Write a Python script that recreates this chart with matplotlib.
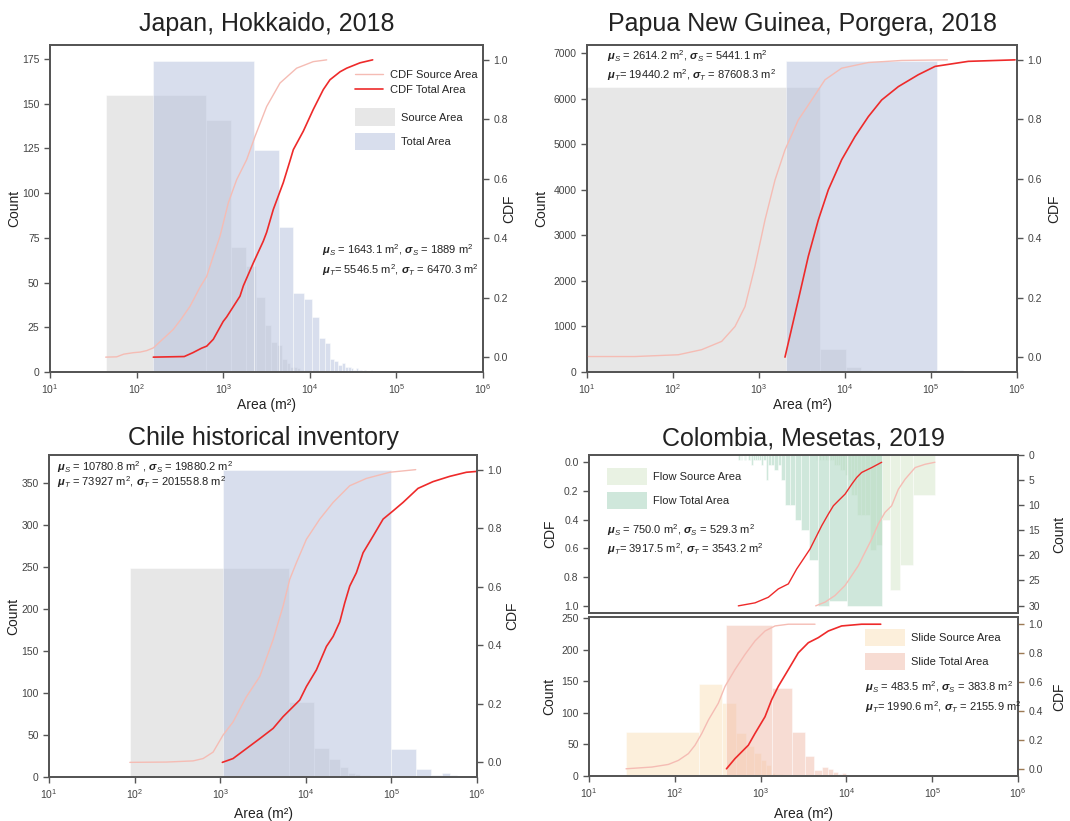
import numpy as np
import matplotlib
matplotlib.use('Agg')
import matplotlib.pyplot as plt
import seaborn as sns
from matplotlib.patches import Patch
from matplotlib.lines import Line2D
from matplotlib.ticker import NullLocator, FixedLocator

# ---------------- Japan, Hokkaido 2018
jp_src_start, jp_src_width = 44, 594
jp_src_counts = [155, 141, 70, 59, 42, 26, 17, 15, 7, 5, 3, 3, 2, 1, 1, 1, 1, 0, 1, 0, 1, 0, 0, 0, 0, 1]
jp_tot_start, jp_tot_width = 156, 2100
jp_tot_counts = [174, 124, 81, 44, 41, 31, 19, 16, 7, 6, 4, 5, 3, 3, 2, 1, 2, 1, 1, 0, 1, 0, 0, 0, 1]
jp_src_cdf_x = [44, 59, 71, 92, 110, 131, 156, 200, 265, 331, 414, 540, 646, 769, 918, 1146, 1432,
                1866, 2328, 3177, 4529, 7047, 10965, 15668]
jp_src_cdf_y = [0, 0.001, 0.01, 0.015, 0.017, 0.022, 0.031, 0.06, 0.093, 0.13, 0.171, 0.235, 0.272,
                0.34, 0.406, 0.519, 0.597, 0.664, 0.742, 0.843, 0.922, 0.972, 0.994, 1.0]
jp_tot_cdf_x = [156, 355, 447, 562, 646, 769, 1000, 1096, 1309, 1563, 1710, 2228, 2904, 3177, 3793,
                4943, 5902, 6457, 8414, 10965, 14322, 17100, 22387, 26669, 38019, 53211]
jp_tot_cdf_y = [0, 0.002, 0.015, 0.03, 0.037, 0.06, 0.12, 0.135, 0.17, 0.205, 0.24, 0.317, 0.39, 0.42,
                0.497, 0.587, 0.66, 0.698, 0.76, 0.833, 0.9, 0.933, 0.96, 0.972, 0.99, 1.0]

# ---------------- Papua New Guinea, Porgera 2018
png_src_start, png_src_width = 5, 5090
png_src_counts = [6260, 498, 103, 44, 20, 10, 6, 4, 3, 2, 1, 1, 1, 0, 1, 0, 0, 1, 0, 0, 0, 0, 0, 0,
                  0, 0, 0, 0, 0, 1]
png_tot_start, png_tot_width = 2040, 116000
png_tot_counts = [6839, 51, 8, 3, 2, 1, 0, 0, 1]
png_src_cdf_x = [10, 36, 115, 215, 368, 526, 687, 897, 1175, 1535, 2004, 2864, 4093, 5848, 9141,
                 18664, 45604, 154882]
png_src_cdf_y = [0.002, 0.002, 0.008, 0.025, 0.053, 0.103, 0.17, 0.305, 0.462, 0.596, 0.697, 0.798,
                 0.865, 0.933, 0.972, 0.991, 0.998, 1.0]
png_tot_cdf_x = [2004, 2864, 3741, 4898, 6397, 9141, 13062, 18664, 26669, 41687, 71121, 111429,
                 271644, 948418]
png_tot_cdf_y = [0, 0.193, 0.339, 0.462, 0.563, 0.664, 0.742, 0.809, 0.865, 0.91, 0.95, 0.978,
                 0.995, 1.0]

# ---------------- Chile historical inventory
cl_src_start, cl_src_width = 88, 6200
cl_src_counts = [249, 89, 35, 21, 12, 5, 3, 2, 2, 1, 1, 0, 1, 1, 0, 1, 0, 0, 1, 0, 0, 0, 0, 1, 0,
                 0, 0, 0, 0, 0, 1]
cl_tot_start, cl_tot_width = 1080, 97100
cl_tot_counts = [365, 33, 10, 2, 5, 2, 1, 0, 0, 1]
cl_src_cdf_x = [88, 235, 482, 631, 826, 1079, 1413, 2023, 2897, 4150, 5420, 6486, 7762, 10162,
                14555, 20845, 32584, 51050, 95499, 192309]
cl_src_cdf_y = [0, 0.001, 0.005, 0.013, 0.035, 0.093, 0.138, 0.224, 0.293, 0.419, 0.533, 0.625,
                0.682, 0.762, 0.831, 0.888, 0.945, 0.97, 0.991, 1.0]
cl_tot_cdf_x = [1059, 1413, 2023, 2897, 4150, 5420, 7096, 8492, 10162, 13305, 17418, 20845, 24946,
                28510, 32584, 38994, 46666, 61094, 79983, 104472, 136773, 204644, 306196, 479733,
                751623, 1000000]
cl_tot_cdf_y = [0, 0.013, 0.047, 0.081, 0.116, 0.156, 0.19, 0.213, 0.259, 0.316, 0.396, 0.43, 0.48,
                0.545, 0.602, 0.648, 0.716, 0.773, 0.831, 0.859, 0.888, 0.936, 0.959, 0.977, 0.991,
                0.994]

# ---------------- Colombia, Mesetas 2019 : flows (upper, mirrored) and slides (lower)
fl_src_start, fl_src_width = 93, 72.9
fl_src_counts = [8, 22, 27, 13, 18, 19, 12, 12, 12, 8, 8, 5, 4, 3, 3, 2, 2, 2, 1, 1, 1, 1, 1, 0, 1,
                 0, 1, 0, 0, 1]
fl_tot_start, fl_tot_width = 388, 594
fl_tot_counts = [30, 29, 30, 21, 15, 13, 10, 10, 5, 2, 3, 2, 2, 5, 1, 2, 1, 1, 1, 1, 2, 1, 1, 0, 1,
                 1, 0, 1, 0, 1]
fl_src_cdf_x = [93, 121, 158, 207, 248, 297, 355, 425, 507, 607, 726, 867, 1037, 1358, 1775, 2280]
fl_src_cdf_y = [0, 0.014, 0.037, 0.118, 0.188, 0.303, 0.349, 0.43, 0.535, 0.627, 0.72, 0.789, 0.858,
                0.928, 0.974, 1.0]
fl_tot_cdf_x = [388, 507, 664, 759, 867, 1037, 1241, 1419, 1625, 1941, 2323, 2655, 3177, 3796, 4753,
                6219, 8128, 11614, 18197]
fl_tot_cdf_y = [0, 0.037, 0.071, 0.106, 0.153, 0.222, 0.268, 0.303, 0.361, 0.442, 0.535, 0.604,
                0.674, 0.743, 0.847, 0.882, 0.94, 0.979, 1.0]

sl_src_start, sl_src_width = 27, 162
sl_src_counts = [70, 146, 115, 68, 48, 36, 25, 17, 5, 3, 3, 2, 2, 1, 1, 1, 1, 0, 1, 0, 1, 0, 0, 0,
                 0, 1]
sl_tot_start, sl_tot_width = 400, 950
sl_tot_counts = [240, 139, 69, 32, 10, 14, 11, 7, 3, 4, 2, 1, 1, 0, 1, 1, 0, 0, 1, 0, 1, 0, 0, 0,
                 0, 1]
sl_src_cdf_x = [27, 54, 84, 110, 144, 172, 206, 246, 321, 385, 502, 658, 859, 1125, 1472, 2104, 4305]
sl_src_cdf_y = [0, 0.012, 0.03, 0.058, 0.105, 0.163, 0.244, 0.337, 0.453, 0.57, 0.686, 0.791, 0.884,
                0.953, 0.988, 1.0, 1.0]
sl_tot_cdf_x = [400, 502, 719, 859, 1125, 1343, 1607, 2104, 2748, 3597, 4699, 6152, 8790, 15031,
                25119]
sl_tot_cdf_y = [0, 0.07, 0.163, 0.244, 0.36, 0.477, 0.57, 0.686, 0.802, 0.872, 0.907, 0.953, 0.988,
                1.0, 1.0]

GREY = '#d1d1d1'
BLUE = '#b3bfdd'
FLOW_SRC = '#d5e7c9'
FLOW_TOT = '#a1d1b9'
SLIDE_SRC = '#fbe1b9'
SLIDE_TOT = '#f1bba9'
PINK = '#f5bcb4'
RED = '#ee2a2a'
INK = '#222222'

sns.set_style('ticks')
plt.rcParams['font.family'] = ['Liberation Sans', 'DejaVu Sans']
plt.rcParams['mathtext.fontset'] = 'custom'
plt.rcParams['mathtext.rm'] = 'Liberation Sans'
plt.rcParams['mathtext.it'] = 'Liberation Sans:italic'
plt.rcParams['mathtext.bf'] = 'Liberation Sans:bold:italic'
plt.rcParams['axes.edgecolor'] = '#555555'
plt.rcParams['axes.linewidth'] = 1.3
plt.rcParams['xtick.color'] = '#555555'
plt.rcParams['ytick.color'] = '#555555'
plt.rcParams['xtick.labelcolor'] = '#444444'
plt.rcParams['ytick.labelcolor'] = '#444444'
plt.rcParams['xtick.labelsize'] = 7.5
plt.rcParams['ytick.labelsize'] = 7.5
plt.rcParams['axes.labelsize'] = 10
plt.rcParams['axes.labelcolor'] = INK

AREA_LABEL = 'Area (m\u00b2)'


def bars(ax, start, width, counts, color):
    left = start + width * np.arange(len(counts))
    ax.bar(left, counts, width=width, align='edge', color=color, alpha=0.5,
           edgecolor='white', linewidth=0.6)


def setup_x(ax):
    ax.set_xscale('log')
    ax.set_xlim(10, 1e6)
    ax.xaxis.set_major_locator(FixedLocator([1e1, 1e2, 1e3, 1e4, 1e5, 1e6]))
    ax.xaxis.set_minor_locator(NullLocator())


def stats(ax, x, y1, y2, s1, s2, fs=8):
    ax.text(x, y1, s1, transform=ax.transAxes, fontsize=fs, va='center', ha='left', color=INK)
    ax.text(x, y2, s2, transform=ax.transAxes, fontsize=fs, va='center', ha='left', color=INK)


def patch_legend(ax, labels, colors, x, y):
    handles = [Patch(facecolor=c, alpha=0.5, edgecolor='none') for c in colors]
    return ax.legend(handles, labels, loc='upper left', bbox_to_anchor=(x, y), frameon=False,
                     fontsize=8, handlelength=3.6, handleheight=2.0, handletextpad=0.55,
                     labelspacing=0.65, borderpad=0, borderaxespad=0)


def hist_cdf(rect, src, tot, src_cdf, tot_cdf, colors):
    ax = fig.add_axes(rect)
    setup_x(ax)
    bars(ax, *src, colors[0])
    bars(ax, *tot, colors[1])
    cx = ax.twinx()
    cx.plot(*src_cdf, color=PINK, lw=1.0)
    cx.plot(*tot_cdf, color=RED, lw=1.2)
    setup_x(cx)
    ax.set_xlabel(AREA_LABEL)
    ax.set_ylabel('Count')
    cx.set_ylabel('CDF')
    ax.tick_params(length=4, width=1)
    cx.tick_params(length=4, width=1)
    return ax, cx


fig = plt.figure(figsize=(10.70, 8.21), dpi=100)

# Japan
ax, cx = hist_cdf([0.0467, 0.5469, 0.4047, 0.3983],
                  (jp_src_start, jp_src_width, jp_src_counts),
                  (jp_tot_start, jp_tot_width, jp_tot_counts),
                  (jp_src_cdf_x, jp_src_cdf_y), (jp_tot_cdf_x, jp_tot_cdf_y), (GREY, BLUE))
ax.set_title('Japan, Hokkaido, 2018', fontsize=18, pad=10, color=INK)
ax.yaxis.set_label_coords(-0.067, 0.5)
cx.yaxis.set_label_coords(1.044, 0.5)
ax.xaxis.set_label_coords(0.5, -0.08)
lines_leg = cx.legend([Line2D([], [], color=PINK, lw=1.0), Line2D([], [], color=RED, lw=1.2)],
                      ['CDF Source Area', 'CDF Total Area'], loc='upper left',
                      bbox_to_anchor=(0.704, 0.924), frameon=False, fontsize=8, handlelength=2.5,
                      handletextpad=0.63, labelspacing=0.46, borderpad=0, borderaxespad=0)
cx.add_artist(lines_leg)
patch_legend(cx, ['Source Area', 'Total Area'], [GREY, BLUE], 0.704, 0.806)
stats(ax, 0.6275, 0.373, 0.312,
      r'$\mathbf{\mu}_S$ = 1643.1 m$^2$, $\mathbf{\sigma}_S$ = 1889 m$^2$',
      r'$\mathbf{\mu}_T$= 5546.5 m$^2$, $\mathbf{\sigma}_T$ = 6470.3 m$^2$')

# Papua New Guinea
ax, cx = hist_cdf([0.5486, 0.5469, 0.4019, 0.3983],
                  (png_src_start, png_src_width, png_src_counts),
                  (png_tot_start, png_tot_width, png_tot_counts),
                  (png_src_cdf_x, png_src_cdf_y), (png_tot_cdf_x, png_tot_cdf_y), (GREY, BLUE))
ax.set_title('Papua New Guinea, Porgera, 2018', fontsize=18, pad=10, color=INK)
ax.yaxis.set_label_coords(-0.091, 0.5)
cx.yaxis.set_label_coords(1.071, 0.5)
ax.xaxis.set_label_coords(0.5, -0.08)
stats(ax, 0.0465, 0.966, 0.908,
      r'$\mathbf{\mu}_S$ = 2614.2 m$^2$, $\mathbf{\sigma}_S$ = 5441.1 m$^2$',
      r'$\mathbf{\mu}_T$= 19440.2 m$^2$, $\mathbf{\sigma}_T$ = 87608.3 m$^2$')

# Chile
ax, cx = hist_cdf([0.0458, 0.0536, 0.4, 0.3922],
                  (cl_src_start, cl_src_width, cl_src_counts),
                  (cl_tot_start, cl_tot_width, cl_tot_counts),
                  (cl_src_cdf_x, cl_src_cdf_y), (cl_tot_cdf_x, cl_tot_cdf_y), (GREY, BLUE))
ax.set_title('Chile historical inventory', fontsize=18, pad=7, color=INK)
ax.yaxis.set_label_coords(-0.068, 0.5)
cx.yaxis.set_label_coords(1.065, 0.5)
ax.xaxis.set_label_coords(0.5, -0.092)
stats(ax, 0.0187, 0.963, 0.916,
      r'$\mathbf{\mu}_S$ = 10780.8 m$^2$ , $\mathbf{\sigma}_S$ = 19880.2 m$^2$',
      r'$\mathbf{\mu}_T$ = 73927 m$^2$, $\mathbf{\sigma}_T$ = 201558.8 m$^2$')

# Colombia - flows, mirrored above
ax = fig.add_axes([0.5505, 0.2533, 0.4009, 0.1924])
setup_x(ax)
bars(ax, fl_src_start, fl_src_width, fl_src_counts, FLOW_SRC)
bars(ax, fl_tot_start, fl_tot_width, fl_tot_counts, FLOW_TOT)
ax.set_xlim(1e6, 10)
ax.invert_yaxis()
ax.set_yticks([0, 5, 10, 15, 20, 25, 30])
cx = ax.twinx()
cx.plot(fl_src_cdf_x, fl_src_cdf_y, color=PINK, lw=1.0)
cx.plot(fl_tot_cdf_x, fl_tot_cdf_y, color=RED, lw=1.0)
cx.set_ylim(1.05, -0.05)
# counts on the right, CDF on the left for the mirrored panel
ax.yaxis.tick_right()
ax.yaxis.set_label_position('right')
ax.set_ylabel('Count')
ax.yaxis.set_label_coords(1.08, 0.5)
cx.yaxis.tick_left()
cx.yaxis.set_label_position('left')
cx.set_ylabel('CDF')
cx.yaxis.set_label_coords(-0.075, 0.5)
for a in (ax, cx):
    a.tick_params(axis='x', bottom=False, labelbottom=False, top=False)
    a.tick_params(axis='y', length=4, width=1)
ax.set_title('Colombia, Mesetas, 2019', fontsize=18, pad=7, color=INK)
patch_legend(cx, ['Flow Source Area', 'Flow Total Area'], [FLOW_SRC, FLOW_TOT], 0.041, 0.92)
stats(cx, 0.042, 0.525, 0.403,
      r'$\mathbf{\mu}_S$ = 750.0 m$^2$, $\mathbf{\sigma}_S$ = 529.3 m$^2$',
      r'$\mathbf{\mu}_T$= 3917.5 m$^2$, $\mathbf{\sigma}_T$ = 3543.2 m$^2$')

# Colombia - slides below
ax, cx = hist_cdf([0.5505, 0.0548, 0.4009, 0.1937],
                  (sl_src_start, sl_src_width, sl_src_counts),
                  (sl_tot_start, sl_tot_width, sl_tot_counts),
                  (sl_src_cdf_x, sl_src_cdf_y), (sl_tot_cdf_x, sl_tot_cdf_y), (SLIDE_SRC, SLIDE_TOT))
ax.yaxis.set_label_coords(-0.077, 0.5)
cx.yaxis.set_label_coords(1.08, 0.5)
ax.xaxis.set_label_coords(0.5, -0.193)
cx.tick_params(axis='y', color='#9c7a54')
patch_legend(cx, ['Slide Source Area', 'Slide Total Area'], [SLIDE_SRC, SLIDE_TOT], 0.643, 0.925)
stats(cx, 0.643, 0.562, 0.436,
      r'$\mathbf{\mu}_S$ = 483.5 m$^2$, $\mathbf{\sigma}_S$ = 383.8 m$^2$',
      r'$\mathbf{\mu}_T$= 1990.6 m$^2$, $\mathbf{\sigma}_T$ = 2155.9 m$^2$')

fig.savefig('out.png', dpi=100)
